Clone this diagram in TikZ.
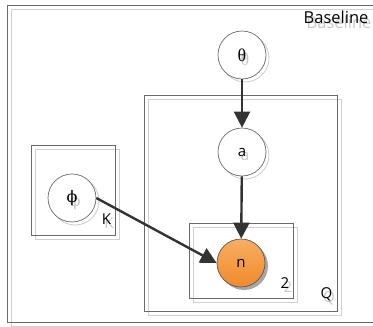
\documentclass[tikz,border=0pt]{standalone}
\usepackage{fontspec}
\setmainfont{Open Sans}
\newfontfamily\grk{Liberation Serif}
\newfontfamily\grkb{DejaVu Serif}
\usetikzlibrary{arrows.meta,shadings}
\definecolor{boxline}{HTML}{6A6A6A}
\definecolor{shadowline}{HTML}{D0D0D0}
\definecolor{arrowcol}{HTML}{333333}
\definecolor{orangetop}{HTML}{F8AE62}
\definecolor{orangebot}{HTML}{EF8A2C}
\tikzset{
  plate/.style={draw=boxline, line width=0.9pt},
  plateshadow/.style={draw=shadowline, line width=0.9pt},
  latent/.style={circle, draw=boxline, fill=white, line width=0.7pt, minimum size=48pt, inner sep=0pt},
  latentshadow/.style={circle, draw=shadowline, line width=0.9pt, minimum size=48pt, inner sep=0pt},
  observed/.style={circle, draw=black!65, top color=orangetop, bottom color=orangebot, line width=0.7pt, minimum size=48pt, inner sep=0pt, font=\fontsize{15}{18}\selectfont},
  obsshadow/.style={circle, fill=black!35, minimum size=48pt, inner sep=0pt},
  platelabel/.style={font=\fontsize{15}{18}\selectfont, text=black},
  labelshadow/.style={font=\fontsize{15}{18}\selectfont, text=black!22},
  biglabel/.style={font=\fontsize{16.5}{19}\selectfont, text=black},
  bigshadow/.style={font=\fontsize{16.5}{19}\selectfont, text=black!22},
  nodetext/.style={font=\fontsize{15}{18}\selectfont},
  greektext/.style={font=\grk\fontsize{18}{20}\selectfont},
  phitext/.style={font=\grkb\fontsize{16}{20}\selectfont},
  edge/.style={draw=arrowcol, line width=2.4pt, -{Triangle[length=16pt,width=16pt]}}
}
\begin{document}
\begin{tikzpicture}[x=1pt,y=-1pt]
\useasboundingbox (0,0) rectangle (373,327);
\begin{scope}
\clip (0,0) rectangle (373,327);
% outer plate
\draw[plateshadow] (11,9) rectangle (384,326);
\draw[plate] (7,5) rectangle (380,322);
\node[bigshadow, anchor=north east] (baseS) at (375,12) {Baseline};
\node[biglabel, anchor=north east] (base) at (372,7.5) {Baseline};
% Q plate
\draw[plateshadow] (148,99) rectangle (341,315);
\draw[plate] (144,95) rectangle (337,311);
% K plate
\draw[plateshadow] (35,149) rectangle (119,239);
\draw[plate] (31,145) rectangle (115,235);
% inner plate 2
\draw[plateshadow] (193,227) rectangle (297,302);
\draw[plate] (189,223) rectangle (293,298);
% plate labels
\node[labelshadow] (Ks) at (109,223) {K};
\node[platelabel] (K) at (106.5,219) {K};
\node[labelshadow] (Ts) at (288,287) {2};
\node[platelabel] (T) at (285,283.5) {2};
\node[labelshadow] (Qs) at (329,298) {Q};
\node[platelabel] (Q) at (326.5,294) {Q};
% node shadows
\node[latentshadow] (thetaS) at (245,58) {};
\node[latentshadow] (aS) at (245,155) {};
\node[latentshadow] (phiS) at (75,201) {};
\node[obsshadow] (nS) at (244,266) {};
% nodes
\node[latent] (theta) at (242,55) {};
\node[greektext, text=black!22] (thetaT) at (245,59) {θ};
\node[greektext] (thetaL) at (242,55) {θ};
\node[latent] (a) at (242,152) {};
\node[nodetext, text=black!22] (aT) at (245,156) {a};
\node[nodetext] (aL) at (242,152) {a};
\node[latent] (phi) at (72,198) {};
\node[phitext, text=black!22] (phiT) at (75,202) {ϕ};
\node[phitext] (phiL) at (72,198) {ϕ};
\node[observed] (n) at (241,263) {n};
% edges
\draw[edge] (theta) -- (a);
\draw[edge] (a) -- (n);
\draw[edge] (phi.east) -- (n.west);
\end{scope}
\end{tikzpicture}
\end{document}
